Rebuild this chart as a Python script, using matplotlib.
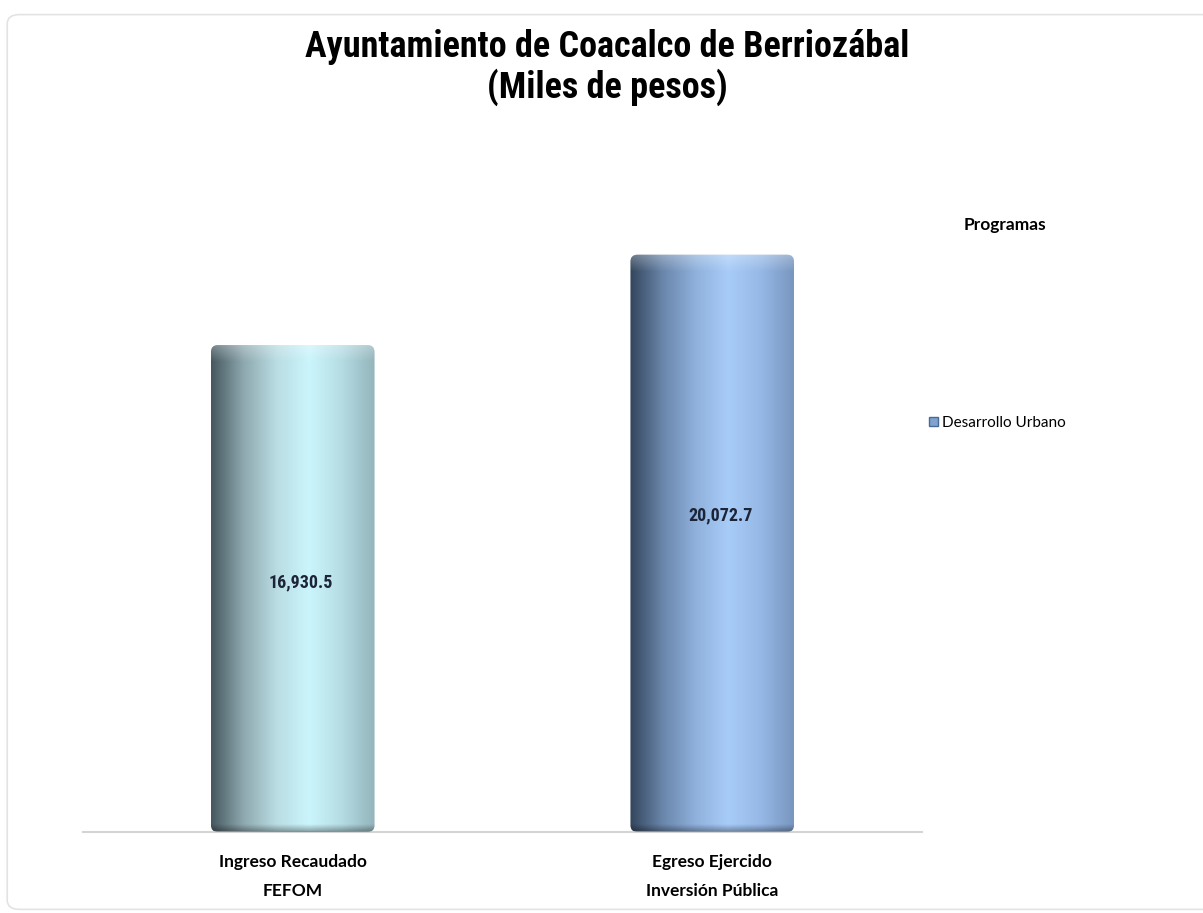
import numpy as np
import matplotlib
matplotlib.use("Agg")
import matplotlib.pyplot as plt
from matplotlib.colors import LinearSegmentedColormap
from matplotlib.patches import Patch, FancyBboxPatch

# datos
categorias = ["Ingreso Recaudado\nFEFOM", "Egreso Ejercido\nInversión Pública"]
valores = [16930.5, 20072.7]
etiquetas = ["16,930.5", "20,072.7"]
serie = "Desarrollo Urbano"

# colores tipo cilindro (oscuro -> claro -> medio)
grad1 = ["#45585f", "#8fa9b0", "#b9dde3", "#cbf5fc", "#b5dce3", "#93b4bb"]
grad2 = ["#33455c", "#6a86ab", "#8fb1dc", "#a8ccf8", "#96b8e6", "#7896bf"]

angosta = ["Roboto Condensed", "Liberation Sans Narrow", "DejaVu Sans"]

fig = plt.figure(figsize=(12.03, 9.13), dpi=100)
fig.patch.set_facecolor("white")

# marco suave del grafico
marco = FancyBboxPatch((0.006, 0.004), 1.1, 0.98, boxstyle="round,pad=0,rounding_size=0.01",
                       transform=fig.transFigure, facecolor="none", edgecolor="#e3e3e3", lw=1.2)
fig.patches.append(marco)

ax = fig.add_axes([83/1203, 1-832/913, 839/1203, 719/913])
ax.set_xlim(-0.5, 1.5)
ax.set_ylim(0, 25000)

x = np.arange(len(categorias))
barras = ax.bar(x, valores, width=0.39, color="none", edgecolor="none", zorder=2)

# px por unidad de datos, para redondear esquinas
px_x = 839 / 2.0
px_y = 719 / 25000.0
r = 7 / px_x
asp = (7 / px_y) / r

for b, cols in zip(barras, [grad1, grad2]):
    cmap = LinearSegmentedColormap.from_list("c", cols)
    g = np.linspace(0, 1, 256).reshape(1, -1)
    x0, w, h = b.get_x(), b.get_width(), b.get_height()
    forma = FancyBboxPatch((x0, 0), w, h, boxstyle=f"round,pad=0,rounding_size={r}",
                           mutation_aspect=asp, facecolor="none", edgecolor="none",
                           transform=ax.transData)
    ax.add_patch(forma)
    im = ax.imshow(g, cmap=cmap, extent=[x0, x0 + w, 0, h], aspect="auto", zorder=2,
                   interpolation="bicubic")
    im.set_clip_path(forma)
    # brillo suave en la tapa
    rgba = np.ones((40, 1, 4))
    rgba[..., 3] = np.linspace(0.3, 0, 40).reshape(-1, 1)
    top = ax.imshow(rgba, extent=[x0, x0 + w, h - 600, h], aspect="auto", zorder=3,
                    interpolation="bicubic")
    top.set_clip_path(forma)
    # borde oscuro abajo
    bb = np.zeros((20, 1, 4))
    bb[..., 3] = np.linspace(0, 0.35, 20).reshape(-1, 1)
    bot = ax.imshow(bb, extent=[x0, x0 + w, 0, 250], aspect="auto", zorder=3, interpolation="bicubic")
    bot.set_clip_path(forma)

# posicion de las etiquetas (fraccion de la barra)
frac = [0.513, 0.549]
for xi, v, f, t in zip(x, valores, frac, etiquetas):
    ax.text(xi + 0.02, v * f, t, ha="center", va="center", fontsize=13, fontweight="bold",
            fontstretch="condensed", color="#1c2438", family=angosta, zorder=4)

ax.set_ylim(0, 25000)
ax.set_xlim(-0.5, 1.5)
for s in ["top", "right", "left"]:
    ax.spines[s].set_visible(False)
ax.spines["bottom"].set_color("#d4d4d4")
ax.spines["bottom"].set_linewidth(1.5)
ax.set_yticks([])
ax.set_xticks(x)
ax.set_xticklabels(categorias, fontsize=12.5, fontweight="bold", family=["Lato", "DejaVu Sans"],
                   linespacing=2.0)
ax.tick_params(axis="x", length=0, pad=16)

fig.text(0.505, 0.968, "Ayuntamiento de Coacalco de Berriozábal\n(Miles de pesos)", ha="center", va="top",
         fontsize=26, fontweight="bold", fontstretch="condensed", family=angosta, linespacing=1.1)

fig.legend(handles=[Patch(facecolor="#7fa3cf", edgecolor="#4a6a95", label=serie)],
           loc="center left", bbox_to_anchor=(915/1203, 1-423/913), frameon=False,
           prop={"family": ["Lato", "DejaVu Sans"], "size": 11},
           handlelength=0.6, handleheight=0.6, handletextpad=0.3)
fig.text(1005/1203, 1-225/913, "Programas", ha="center", va="center", fontsize=12.5, fontweight="bold",
         family=["Lato", "DejaVu Sans"])

fig.savefig("out.png", dpi=100)
